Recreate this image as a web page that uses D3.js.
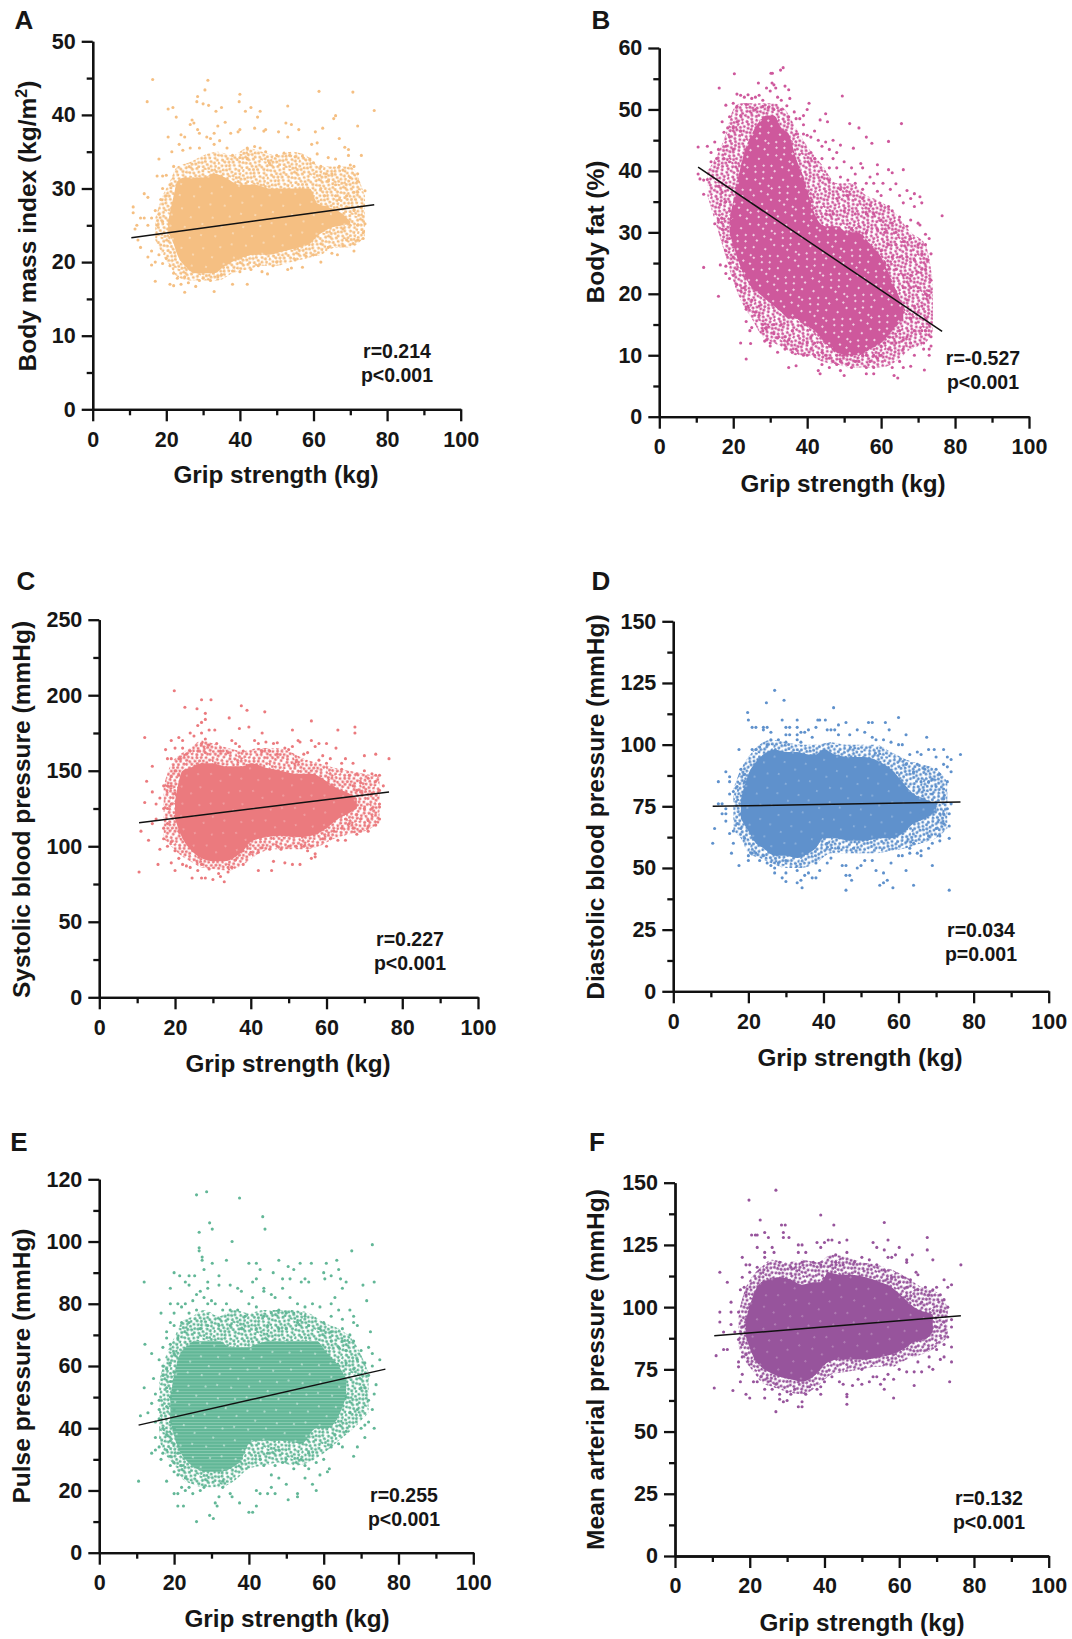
<!DOCTYPE html>
<html>
<head>
<meta charset="utf-8">
<script src="https://cdn.jsdelivr.net/npm/d3@7"></script>
<style>
  html, body { margin: 0; background: #fff; }
  svg text { font-family: "Liberation Sans", Arial, sans-serif; font-weight: 700; fill: #161616; }
</style>
</head>
<body>
<div id="chart"></div>
<script>
// Values
let xTicks = [0, 20, 40, 60, 80, 100];
let xMinor = [10, 30, 50, 70, 90];
let fitX = [10.5, 76.5];

let aTicks = [0, 10, 20, 30, 40, 50];
let aMinor = [5, 15, 25, 35, 45];
let bTicks = [0, 10, 20, 30, 40, 50, 60];
let bMinor = [5, 15, 25, 35, 45, 55];
let cTicks = [0, 50, 100, 150, 200, 250];
let cMinor = [25, 75, 125, 175, 225];
let dTicks = [0, 25, 50, 75, 100, 125, 150];
let dMinor = [12.5, 37.5, 62.5, 87.5, 112.5, 137.5];
let eTicks = [0, 20, 40, 60, 80, 100, 120];
let eMinor = [10, 30, 50, 70, 90, 110];
let fTicks = [0, 25, 50, 75, 100, 125, 150];
let fMinor = [12.5, 37.5, 62.5, 87.5, 112.5, 137.5];

let aFit = [23.3, 27.8];
let bFit = [40.6, 13.9];
let cFit = [115.5, 136];
let dFit = [75, 76.7];
let eFit = [41, 59];
let fFit = [88.5, 96.5];

// Solid part of each cloud, where single dots can't be told apart
let aCoreX = [20.5, 22, 23, 25, 28, 30, 33, 36, 40, 44, 48, 52, 56, 59, 61, 64, 68, 70];
let aCoreHigh = [25.5, 29, 31, 31.5, 31.5, 31.5, 32, 31.5, 30.5, 30.5, 30, 30, 30, 30, 28, 27.5, 26.5, 25.5];
let aCoreLow = [24, 22.5, 21, 19.5, 18.5, 18.5, 18.5, 19.5, 20.5, 21, 21, 21.5, 22, 22.5, 23.5, 24.5, 25, 25.2];

let bCoreX = [19, 21, 23, 25, 27, 29, 31, 33, 35, 37, 39, 42, 45, 48, 51, 54, 57, 60, 63, 66];
let bCoreHigh = [32, 38, 43, 46, 48, 49, 49, 47, 46, 42, 39, 33, 31, 31, 30, 30, 28, 26, 22, 18];
let bCoreLow = [30, 26, 23, 21, 20, 19, 18, 17, 16, 16, 15, 14, 12, 10.5, 10, 10, 11, 12, 14, 16];

let cCoreX = [20, 22, 24, 27, 30, 33, 36, 38, 40, 44, 48, 52, 56, 60, 63, 66, 68];
let cCoreHigh = [130, 150, 152, 155, 155, 153, 153, 153, 155, 152, 150, 148, 148, 143, 138, 135, 132];
let cCoreLow = [118, 105, 98, 92, 90, 90, 93, 97, 103, 106, 107, 106, 107, 112, 118, 122, 125];

let dCoreX = [18, 20, 22, 24, 27, 30, 33, 36, 38, 40, 43, 47, 51, 55, 58, 61, 64, 67, 70];
let dCoreHigh = [78, 88, 93, 96, 98, 97, 97, 96, 96, 98, 96, 95, 95, 93, 90, 85, 80, 78, 76];
let dCoreLow = [70, 65, 60, 58, 55, 55, 54, 56, 58, 62, 62, 61, 61, 62, 62, 64, 68, 70, 73];

let eCoreX = [19, 21, 23, 26, 29, 32, 35, 38, 40, 42, 46, 50, 54, 58, 61, 64, 66];
let eCoreHigh = [50, 62, 66, 68, 68, 68, 66, 66, 66, 67, 68, 68, 68, 68, 64, 60, 56];
let eCoreLow = [42, 34, 30, 27, 26, 26, 27, 30, 35, 36, 36, 36, 35, 40, 40, 44, 50];

let fCoreX = [19, 21, 23, 25, 28, 31, 34, 37, 39, 41, 44, 47, 51, 55, 58, 61, 64, 67, 69];
let fCoreHigh = [95, 105, 110, 111, 112, 111, 109, 110, 110, 114, 113, 113, 112, 110, 108, 104, 100, 98, 97];
let fCoreLow = [88, 80, 76, 74, 72, 71, 70, 72, 75, 78, 79, 79, 79, 80, 81, 83, 86, 87, 90];

// Outer edge of the speckled ring around the solid part
let aRingX = [17, 19, 21, 23, 26, 30, 34, 38, 42, 46, 50, 54, 58, 62, 66, 70, 74];
let aRingHigh = [26, 29, 31, 33, 33.5, 34.5, 35, 34.5, 35.5, 35, 34.5, 35, 34.5, 33, 33, 33, 29];
let aRingLow = [23, 21, 19.5, 18, 17.5, 17.5, 17.5, 18.5, 19, 19.5, 19.5, 20, 20.5, 21, 22, 22, 23.5];

let bRingX = [13, 16, 18, 20, 22, 25, 28, 31, 34, 37, 40, 44, 48, 52, 56, 60, 64, 68, 72, 74];
let bRingHigh = [40, 43, 46, 50, 51, 51, 51, 51, 50, 47, 44, 41, 38, 38, 36, 35, 33, 30, 28, 22];
let bRingLow = [36, 30, 26, 22, 19, 16, 13, 12, 11, 10, 10, 9, 8.5, 8, 8, 8, 9, 11, 12, 14];

let cRingX = [17, 19, 21, 24, 27, 30, 34, 38, 42, 46, 50, 54, 58, 62, 66, 70, 74];
let cRingHigh = [140, 155, 160, 165, 170, 168, 165, 163, 165, 165, 163, 158, 155, 152, 150, 148, 146];
let cRingLow = [105, 100, 95, 90, 86, 85, 84, 88, 95, 98, 98, 98, 100, 105, 108, 110, 115];

let dRingX = [16, 18, 20, 23, 26, 30, 34, 38, 42, 46, 50, 54, 58, 62, 66, 70, 73];
let dRingHigh = [82, 90, 95, 100, 102, 101, 100, 100, 101, 100, 100, 100, 97, 94, 92, 90, 85];
let dRingLow = [65, 62, 56, 54, 52, 50, 50, 52, 56, 56, 56, 56, 57, 58, 60, 62, 66];

let eRingX = [16, 18, 20, 22, 25, 28, 32, 36, 40, 44, 48, 52, 56, 60, 64, 68, 72];
let eRingHigh = [55, 64, 69, 74, 76, 78, 76, 78, 77, 78, 78, 78, 77, 74, 72, 68, 58];
let eRingLow = [36, 31, 28, 24, 22, 21, 21, 23, 27, 28, 29, 28, 29, 32, 36, 40, 45];

let fRingX = [17, 19, 21, 23, 26, 30, 34, 38, 42, 46, 50, 54, 58, 62, 66, 70, 73];
let fRingHigh = [98, 108, 113, 116, 119, 118, 119, 118, 121, 120, 118, 117, 115, 112, 108, 106, 100];
let fRingLow = [84, 78, 74, 70, 68, 66, 65, 68, 73, 74, 75, 76, 76, 79, 81, 84, 88];

// Separate dots around the solid part
let aPoints = [[16.3,44.8],[14.8,41.8],[20.5,40.8],[21.8,41],[22.7,39.7],[30.5,43.4],[31.3,44.7],[28.5,42.5],[28.3,41.8],[30,41.5],[31.5,41.3],[33.5,40.5],[35,41],[40,42.8],[39.8,41.8],[41.5,40.5],[43,41],[44.8,39.7],[45.5,40.5],[53,41.2],[61.5,43.2],[70.7,43.1],[76.5,40.6],[65.5,39.5],[66,39.9],[72,38.5],[62.5,38.2],[52.5,38.9],[54,38.7],[56,38],[60.5,37.7],[46.5,37.8],[47,38],[50.5,37.7],[53,37],[44,38.2],[40,38],[39.5,37.7],[26.5,38.7],[27.5,38.9],[27,39.3],[28.5,38],[29,37.5],[31,37],[32,36.8],[33,37.5],[34,38.5],[36,39],[37.5,37.5],[24,37.3],[25,37],[20.5,37],[23.5,36],[21.5,35],[24.5,35.2],[26.5,35.5],[29,35.5],[33,36],[34.5,36.5],[36.5,35.5],[38,34.5],[40,34.2],[42,34],[42,35.5],[44,35.7],[45.5,35.5],[47,35],[48,33.5],[50,34.5],[52,34.8],[53.5,34.5],[55,34.3],[57,34.4],[59,34],[60,33.5],[61,34.7],[59.5,36],[61,36.2],[67,36.8],[68.5,35.6],[69.5,35.3],[69.5,34.5],[73,34.5],[64,34.2],[66,34],[67,33],[70,33.2],[71,33],[72,32],[62,33],[63.5,32],[65,32],[68,32.5],[64,31],[66,30.5],[70,31.5],[72,31],[72,29.5],[74,29.7],[71,29.5],[69,29],[66,29],[62,30],[63,29],[67,28.5],[18,34],[19,31.7],[17.5,31.7],[20,31.8],[21,30.5],[19,30],[22,33],[20,29],[18.5,28.5],[17,27],[15,28.8],[14,29.3],[11,27.5],[11,26.7],[13,26],[14,26],[16,26],[18,26.5],[19,25.5],[12,25],[15,25],[17.5,25],[11.5,24.5],[12.3,23],[13,22],[15,20.7],[16,21.5],[17,20],[18,21],[16,19.6],[17,17.4],[19,19.8],[20,20.5],[21,19.5],[22,18.5],[21,17],[22,16.8],[23,17.8],[24,17],[25,15.9],[25,18],[26,17.2],[28,16.7],[29,17.5],[30,17.8],[33,16],[32,17.5],[34,18],[35,18.3],[38,17],[38,18.8],[40,18.7],[42,17],[43,19],[45,19.5],[46,18.7],[47.5,18.4],[49,19.5],[50,20],[53,19],[54,19.2],[57,19.3],[55,20.3],[58,20.8],[60,21],[62,20],[65,21.2],[66.5,21],[68,22.2],[71,21.5],[64,22],[62,22.5],[69,23],[72,23],[73.5,23.2],[73.5,24],[72,25],[74,25.2],[70,25],[68,24.5],[71,27],[73,27.5],[69,27.5],[66,26],[64,26.5]];

let bPoints = [[20.3,55.8],[16.2,53.5],[30.2,55.9],[30.6,55.9],[33.5,56.8],[32.8,56.4],[26.8,54.3],[30.5,54.3],[31,54],[31.5,53.5],[29,53.5],[34,53.8],[35,53.2],[30,53],[21,52.5],[22,52.3],[23,52],[24,52.4],[25,51.8],[26,52],[27,52.3],[28,51.5],[32,52],[33,51.5],[35.3,51.8],[18,50.7],[20,51],[21,50.5],[23.5,50.8],[26,50],[28,50.5],[29.5,50.3],[31,50],[33,50],[34.5,50.6],[36.5,49.6],[39,49],[40,50],[40.5,51],[49.5,52.2],[45,49.3],[43.5,48.3],[45.5,48],[51.5,47.7],[54,47],[65.5,47.7],[38,48.5],[39,47.5],[35,48.8],[37,48.5],[17,48],[19,48.8],[21,48],[22,49],[18.5,47],[17.5,46.3],[19,45.5],[20,47],[22,46.5],[56,45.5],[37,46],[39,46],[40,45.8],[41,45.5],[42,46.5],[62,44.8],[57.5,44.5],[43,45],[45,44.7],[47,45],[49,44.2],[44,44],[46,43.5],[15,44.7],[13,44],[10.5,43.9],[14,43],[16,43.5],[18,44],[20,43.5],[48,43],[52.5,43.7],[41,43],[42,42],[44,42],[47,42],[50,41.5],[54.5,41.2],[55,40.5],[14,41.5],[15.5,42],[17.5,42],[19,41.5],[59,41],[46,40.5],[48,40.5],[52,40.5],[53,39.5],[59,39.5],[62,40.2],[66,40.2],[63,39.7],[57,39],[58,38],[60.5,38],[44,39],[46,38.5],[49,39],[51,38.5],[53,38],[55,37],[56,38],[62.5,37],[64,37.9],[67,36.8],[69,36.3],[70.5,35.8],[65,36],[68,35.5],[59,36.7],[60,36],[49,37],[51,36],[48,35.5],[55,35.5],[57,34.5],[60,34.3],[62,34.2],[63,33.5],[66,34.8],[71,34.8],[69,34.2],[50,33.5],[53,33],[56,33],[58,33],[60,32],[63,31.5],[65,32.5],[68,32],[70,31.5],[70.5,31.2],[76.5,32.7],[72,29.7],[73,29],[67,31],[64,30],[61,30],[59,30.5],[56,30],[54,31],[52,30.5],[47,33],[45,33],[43,32.5],[42,34],[40,36.5],[41,35],[10.5,39.5],[11,38.7],[12,38.5],[13,38.6],[12,36.2],[16,37.5],[17,36.5],[18,35],[16.5,34.5],[19,33.5],[20,32],[15,31.4],[16,32],[17,32.3],[18,30.5],[17,30.5],[19,29],[20,28],[18,28.5],[18,27],[16.5,24.7],[12,24.3],[18,24.5],[19,25],[20,26],[18,23.3],[20,23],[21,24],[19,22.5],[21,21.5],[22,20.5],[16,19.6],[23,21],[23,19],[24,18],[23.5,17.5],[25,19],[26,17],[27,18],[23.5,15.5],[25,14.5],[24.5,14],[22,12],[24.7,11.9],[23.5,9.4],[27,16.5],[28,15],[28,14],[29,14.5],[28.5,12.3],[29,12.5],[30,12],[30,11.5],[31,15],[31,13.5],[32,12.8],[33,15],[32,10.5],[34,11],[35,8],[37,8.3],[36,10.5],[37,11],[34,13],[35,12.5],[36,14],[38,12],[39,10],[38,16],[40,15],[40,12],[40,10],[41,11],[41,13],[42,10],[42,12],[43,14],[43,7.5],[43.5,7],[44,8.5],[44,10.5],[45,12],[45,10],[46,9.5],[46,8],[47,9],[47,11],[48,10],[48,8.5],[49,7.5],[50,6.7],[49,9],[50,10],[51,8.5],[52,8],[52,10],[53,9],[53,11],[54,9],[55,10],[56,8],[56,10],[56,7],[57,9],[58,8],[58,7],[58,10],[59,9.5],[59,12],[60,10],[60,11.5],[61,12],[62,11],[62,13],[63,12],[63,8],[63.5,6.7],[64.5,6.3],[65,9],[66,8],[66,11],[64,12],[66,12.5],[65,14],[67,13],[68,8.2],[68,12],[69,10],[69,14],[71,14],[71.7,7.6],[71.5,12],[71.5,11],[73,11],[73,10],[73.5,11.5],[73.5,13],[73,15],[72,14],[72,16],[70,17],[68,16],[66,17],[64,16],[67,19],[69,18],[71,18],[72.5,19.7],[73,20.5],[72,20],[70,21],[68,21],[66,21],[64,20],[62,21],[62,24],[64,24],[66,23],[68,23],[70,23.5],[71,24],[72,24],[73.5,22.2],[73.5,26.5],[71,26.5],[69,25.5],[67,26],[65,26],[63,26],[61,25],[60,27],[62,28],[64,28],[66,28.5],[68,29],[70,28],[72,28],[72.7,25.5]];

let cPoints = [[19.8,203],[22.6,192],[25.8,191],[27,197],[29.5,197],[28,188],[28,184],[37.5,193],[39,190],[43.7,189],[34.3,185],[27,182],[26,180],[39.5,179],[37,178],[56,183],[67.5,179],[67.5,175],[63,177],[51,177],[29,177],[30.5,177],[12,172],[21,172],[22,170],[24,175],[25,173],[27,175],[28,171],[43,175],[19,170],[27,168],[29,167],[31,168],[35,170],[36,168],[37,166],[41,170],[42,168],[44,169],[46,168],[47,168.5],[52.5,170],[53,169],[51,166],[56,170],[57,166],[58,168],[60,168],[62.5,165],[20,165],[22,165],[24,163],[26,163],[28,162],[32,163],[34,162],[17.5,164],[18,158],[19,158],[14,153],[12.5,143],[17,140],[18,140],[21,158],[20,150],[21,147],[19,146],[23,161],[38,163],[43,163],[45,163],[47,161],[49,165],[50,164],[54,161],[55,162],[59,160],[61,158],[64,155],[65,158],[67,155],[64,151],[60,155],[58,157],[52,156],[70,160],[73,161],[76.5,158],[70,150],[72,148],[73,147],[74,147],[71,145],[73,143],[68,148],[66,147],[69,142],[75,140],[74,137],[72,135],[69,136],[67,140],[68,137],[74,128],[74,126],[74,118],[73,114],[71,113],[71,117],[69,118],[68,121],[70,125],[72,125],[69,110],[68,108],[71,110],[67,112],[66,115],[65,118],[64,112],[65,104],[63,104],[62,110],[61,105],[60,100],[59,105],[56,100],[57,95],[56,92],[57,93],[55,97],[53,88],[54,100],[52,100],[50,100],[49,89],[51,88],[48,98],[47,100],[45.5,84],[46,90],[45,98],[42,84],[42,96],[43,99],[40,96],[39,100],[38,97],[38,88],[35,95],[36,91],[34,86],[35,86],[33,76.5],[34,83],[32,80],[31.5,82],[30,78],[29,85],[27,79],[28,79],[26,84],[24.5,79],[24,86],[27,88],[23,87],[22,88],[21,92],[20,84],[19,89],[20,97],[18,100],[19,103],[15.5,88],[10.5,83],[13,104],[11,110],[14,115],[15,118],[17,112],[16,98],[17,105],[18,115],[12,129],[14,136],[15,128],[16,132],[17,125],[19,128],[20,135],[20,120],[21,110],[18,125],[19,140]];

let dPoints = [[27,122],[29.5,118],[24.8,117],[19.8,113],[20,110],[42.7,115],[60,111],[62,104],[67.5,103],[29,110],[33,110],[38.5,110],[39,110],[40.5,110],[46,109],[52,109],[53,109],[56.5,109],[26,105],[44,108],[43,106],[21,107],[22,107],[24,107],[25,107],[24,106],[30,107],[31,107],[33,107],[36,106],[38,107],[41,106],[42,106],[49,106],[51,105],[57.5,106],[30,104],[31,104],[33,104],[34,105],[35,105],[37,103],[44,104],[47,104],[53,103],[54,102],[56,102],[58,101],[60,100],[61,100],[26,102],[28,102],[30,101],[33,102],[34,101],[17.5,98],[21,98],[22,98],[23,99],[25,100],[63,96],[65,97],[66,96],[68,98],[69.5,98],[72,98],[70,95],[74,94],[76.5,96],[73,95],[72,92],[73,91],[74,89],[73,85],[72,82],[71,88],[70,90],[69,86],[70,83],[69,80],[68,85],[67,90],[65,92],[64,89],[66,85],[62,92],[14,89],[15,87],[12,85],[15,85],[18,90],[19,88],[17,83],[16,81],[15,80],[19,85],[19,80],[12,76],[13,76],[14,74],[13,72],[14,72],[14,69],[11,66],[10.5,60],[15,64],[16,60],[16,65],[15.5,56],[17.5,51],[17,68],[18,72],[18,66],[19,62],[20,55],[20,53],[21,56],[22,56],[23,53],[24,55],[25,52],[26,51],[27,48],[27,50],[28,52],[29,46],[30,44.5],[30,48],[30,53],[33,44],[34,45],[34.3,42],[35,47],[33,49],[36,48],[37,46],[38,46],[39,49],[38,52],[41,52],[42,54],[45,51],[46,51],[46,47],[47,47],[47.5,45],[46,41],[49,50],[50,51],[51,53],[53,53],[54,49],[55,43],[56,44],[57,45],[56,48],[58,52],[58.5,42],[64,43],[62,49],[60,55],[61,55],[65,56],[66,57],[66,55],[69,51],[68,58],[69,60],[71,61],[71,63],[73.5,62],[73.5,41],[73.5,67],[72,68],[70,66],[68,63],[64,60],[71,72],[72,72],[73,74],[73.5,72],[70,76],[72,78],[74,76],[66,72],[63,58],[63,56],[48,58],[44,58],[41,60]];

let ePoints = [[26,115],[28.7,116],[37.5,114],[43.7,108],[44.3,104],[29.5,106],[30.2,104],[26.7,103],[35.5,100],[73,99],[67.5,97],[26.7,98],[26.7,97],[27.5,95],[27.5,94],[34,94],[48,94],[30.2,93],[40,93],[42,93],[53.7,93],[56.7,93],[60.7,93],[63.5,94],[50.5,92],[52,91],[64,91],[28,91],[43,91],[12,87],[20,90],[21.5,89],[24,89],[25.5,89],[32,89],[46.5,90],[60,90],[60.3,88],[62,89],[64.5,88],[49,88],[51,88],[55,88],[29,87],[23,87],[24,86],[32,86],[35,86],[41,87],[42,88],[54,87],[56,87],[66,87],[73.5,87],[70.5,86],[19,85],[27,84],[29,85],[37,85],[38,84],[44,85],[49,85],[51,82],[63,82],[65,85],[71.5,81],[26,83],[28,82],[29,80],[25,81],[30,81],[31,80],[22,79],[19,80],[21,80],[23,80],[34,80],[42,79],[44,84],[46,83],[47,82],[40,80],[41,82],[48,78],[50,77],[53,80],[55,79],[57,80],[59,79],[62,80],[64,78],[67,78],[68,76],[16.5,77],[20,77],[24,77],[26,78],[33,78],[35,78],[37,78],[39,76],[44,76],[46,77],[52,77],[55,76],[60,74],[62,76],[65,75],[68,74],[69,73],[18,71],[19,74],[20,73],[22,74],[24,74],[27,72],[29,73],[32,73],[35,73],[38,72],[42,72],[45,73],[48,72],[50,72],[53,74],[56,73],[59,72],[62,71],[65,72],[67,70],[72.5,71],[18,69],[19,67],[21,69],[17,66],[20,64],[12.2,67],[14,64],[16,62],[17,60],[19,61],[20,58],[18,59],[19,55],[14.5,56],[12,53],[17,57],[15,51],[18,53],[20,52],[16,49],[19,50],[14,48],[11,44],[13,45],[16,46],[18,47],[20,46],[15,42],[16,43],[19,42],[20,40],[17,40],[18,38],[15,37],[19,36],[20,35],[16,34],[18,33],[17,32],[14,32],[15,33],[16.5,30],[19,31],[21,32],[20,29],[22,28],[19,28],[20,26],[21,25],[23,24],[10.5,23],[18,23],[22,21],[23,20],[20,19],[21,19],[24,21],[25,19],[27,20],[28,21],[21,15],[22.5,15],[26,10],[29.5,12],[30.5,11],[31,16],[31.5,15],[32,18],[33,21],[33,23],[35,19],[35.5,18],[37.5,16],[40,13],[41,13],[42,15],[42,20],[43,19],[45,19],[46,21],[47,19],[48,24],[50,22],[50.5,17],[53,18],[53,19],[55,24],[56,27],[58,20],[57,22],[61,26],[61.5,27],[59,25],[55,28],[58,29],[60,30],[62,34],[64,35],[65,34],[63,38],[66,39],[68,31],[69,34],[71,37],[71,41],[73.5,40],[70,40],[72,42],[73,46],[73.5,51],[72,49],[74,54],[71,53],[69,46],[67,45],[66,50],[70,53],[72,57],[73,60],[75,62],[71,61],[70,65],[72,66],[73,64],[69,62],[68,59],[66,61],[66,65],[64,66],[68,68],[65,68],[62,68],[43,30],[45,32],[48,33],[50,30],[47,28],[44,28],[46,25],[49,29],[52,27],[54,30],[56,32]];

let fPoints = [[27,147],[19.8,143],[39,137],[22.8,135],[28.5,133],[29.5,133],[42.5,133],[56,134],[29,130],[29,128],[30.5,128],[20.5,129],[21.5,129],[22,129],[24,130],[25,128],[46,127],[42,127],[38,126],[40,126],[41,127],[44,126],[57,127],[67.5,128],[67.5,123],[69,119],[76.5,117],[53,126],[54,124],[60,124],[33,125],[34,125],[39,124],[22,124],[26,124],[26.5,122],[33,122],[35,122],[46,122],[43,121],[57,120],[58,120],[59,121],[56,123],[63.5,121],[62,119],[62,118],[24,122],[24,120],[18,120],[12,114],[14,110],[18,112],[19,117],[20,117],[22,116],[20,114],[18.5,108],[17.5,107],[19,105],[15,102],[12,98],[15,98],[17,98],[15,93],[12,94],[13,90],[18,92],[19,95],[20,100],[21,103],[16,90],[14,83],[13,83],[11,80.5],[17,87],[18,85],[18,80],[19,81],[17,78],[17,76],[18,73],[17.5,70],[10.5,67.5],[15.5,66.5],[19,65],[20,63.5],[21,70],[22,70],[23,72],[24,67],[24,63.5],[26,67],[27,69],[27,58],[28,63],[28,65],[29,62],[30,62.5],[30,66],[31,65],[32,67],[33,60],[34,60],[34,62],[35,65],[36,68],[38,67],[39,65],[39,68],[40,70],[42,72],[44,70],[45,69],[46,65],[46,64],[46,61],[47.5,68.5],[49,71],[50,75],[50,69],[52,70],[53,72],[54,72],[55,69],[56,67],[56,71],[57,73],[58.5,71],[58.5,63.5],[60,75],[62,74],[64,74],[64,68.5],[66,74],[65,78],[68,80],[68,76],[69,75],[71,79],[72,80],[74,84],[74,78],[73.5,70],[70,83],[72,85],[73,88],[74,92],[74,95],[72,94],[70,92],[68,95],[71,98],[73,100],[72,103],[74,109],[73,108],[72,111],[70,108],[69,107],[71,105],[68,105],[66,102],[67,108],[65,107],[65,113],[64.5,114],[63,111],[62,108],[61,112],[60,110],[58,112],[56,115],[54,117],[52,119],[50,120],[48,118],[45,117],[43,118],[39,117],[37,118],[34,118],[31,116],[28,118]];

// Fill textures, in tile pixels. They only stand for density, they are not values
let ringTile = [[1.5,2.5],[4,4],[9,1.5],[12.5,5],[17,2],[18.5,6.5],[24.5,1],[28,4.5],[31,2],[2,9],[7,8],[10,10.5],[15,9.5],[22,8],[25.5,10],[30,9.5],[4.5,14],[8,15.5],[13,14],[18,12.5],[20.5,16],[27,14.5],[30.5,16],[1,19],[6,21],[11,19.5],[15,18],[16.5,22],[23.5,20],[28,20.5],[3,25],[9,25.5],[13,24.5],[20,25],[25,25.5],[30.5,24],[1.5,30],[6,28.5],[10.5,30.5],[16,29],[19,31],[23,29],[27.5,30],[31,28.5]];
let speckTile = [[5,6],[19,3],[27,12],[11,18],[22,24],[3,27]];
let speckTileHeavy = [[5,6],[19,3],[27,12],[11,18],[22,24],[3,27],[13,8],[25,5],[7,14],[17,13],[30,20],[16,24],[9,29],[28,29],[2,20],[21,18]];

// Layout of the six panels, in page pixels
let panels = [
  {letter: "A", lx: 24, ly: 29, left: 92.7, right: 460.7, bottom: 409.3, top: 41.3, color: "#F5BF82", angle: 17, speckR: 0.7,
   ticks: aTicks, minor: aMinor, fit: aFit, coreX: aCoreX, coreHigh: aCoreHigh, coreLow: aCoreLow,
   ringX: aRingX, ringHigh: aRingHigh, ringLow: aRingLow, points: aPoints, specks: speckTile,
   title: "Body mass index (kg/m", sup: "2", tx: 36, ty: 226, xtx: 276, xty: 483,
   stat: ["r=0.214", "p<0.001"], sx: 397, sy: 358},
  {letter: "B", lx: 601, ly: 29, left: 659.3, right: 1029, bottom: 416.7, top: 48, color: "#CE589C", angle: 41, speckR: 0.95,
   ticks: bTicks, minor: bMinor, fit: bFit, coreX: bCoreX, coreHigh: bCoreHigh, coreLow: bCoreLow,
   ringX: bRingX, ringHigh: bRingHigh, ringLow: bRingLow, points: bPoints, specks: speckTileHeavy,
   title: "Body fat (%)", tx: 604, ty: 232, xtx: 843, xty: 492,
   stat: ["r=-0.527", "p<0.001"], sx: 983, sy: 365},
  {letter: "C", lx: 26, ly: 590, left: 99.3, right: 478, bottom: 997.3, top: 619.7, color: "#EB7A7E", angle: 67, speckR: 0.6,
   ticks: cTicks, minor: cMinor, fit: cFit, coreX: cCoreX, coreHigh: cCoreHigh, coreLow: cCoreLow,
   ringX: cRingX, ringHigh: cRingHigh, ringLow: cRingLow, points: cPoints, specks: speckTile,
   title: "Systolic blood pressure (mmHg)", tx: 30, ty: 809.5, xtx: 288, xty: 1072,
   stat: ["r=0.227", "p<0.001"], sx: 410, sy: 946},
  {letter: "D", lx: 601, ly: 590, left: 673.3, right: 1048.7, bottom: 991.3, top: 621.3, color: "#5F91CC", angle: 103, speckR: 0.6,
   ticks: dTicks, minor: dMinor, fit: dFit, coreX: dCoreX, coreHigh: dCoreHigh, coreLow: dCoreLow,
   ringX: dRingX, ringHigh: dRingHigh, ringLow: dRingLow, points: dPoints, specks: speckTile,
   title: "Diastolic blood pressure (mmHg)", tx: 604, ty: 807, xtx: 860, xty: 1066,
   stat: ["r=0.034", "p=0.001"], sx: 981, sy: 937},
  {letter: "E", lx: 19, ly: 1151, left: 99.3, right: 473.3, bottom: 1552.7, top: 1179.3, color: "#62B797", angle: 23, speckR: 0.8, stripes: true,
   ticks: eTicks, minor: eMinor, fit: eFit, coreX: eCoreX, coreHigh: eCoreHigh, coreLow: eCoreLow,
   ringX: eRingX, ringHigh: eRingHigh, ringLow: eRingLow, points: ePoints, specks: speckTile,
   title: "Pulse pressure (mmHg)", tx: 30, ty: 1366, xtx: 287, xty: 1627,
   stat: ["r=0.255", "p<0.001"], sx: 404, sy: 1502},
  {letter: "F", lx: 597, ly: 1151, left: 675, right: 1048.7, bottom: 1556, top: 1182.7, color: "#97549C", angle: 131, speckR: 0.6,
   ticks: fTicks, minor: fMinor, fit: fFit, coreX: fCoreX, coreHigh: fCoreHigh, coreLow: fCoreLow,
   ringX: fRingX, ringHigh: fRingHigh, ringLow: fRingLow, points: fPoints, specks: speckTile,
   title: "Mean arterial pressure (mmHg)", tx: 604, ty: 1369.5, xtx: 862, xty: 1631,
   stat: ["r=0.132", "p<0.001"], sx: 989, sy: 1505}
];

let svg = d3.select("#chart")
  .append("svg")
  .attr("width", 1072)
  .attr("height", 1639)
  .style("display", "block");

let defs = svg.append("defs");

function addTile(id, dots, color, r, angle, zoom) {
  let pattern = defs.append("pattern")
    .attr("id", id)
    .attr("patternUnits", "userSpaceOnUse")
    .attr("width", 32)
    .attr("height", 32)
    .attr("patternTransform", "rotate(" + angle + ") scale(" + zoom + ")");
  pattern.selectAll("circle")
    .data(dots)
    .enter()
    .append("circle")
    .attr("cx", d => d[0])
    .attr("cy", d => d[1])
    .attr("r", r)
    .attr("fill", color);
}

panels.forEach((p, n) => {
  let xScale = d3.scaleLinear().domain([0, 100]).range([p.left, p.right]);
  let yScale = d3.scaleLinear().domain([0, d3.max(p.ticks)]).range([p.bottom, p.top]);

  let band = d3.area()
    .x(d => xScale(d.x))
    .y0(d => yScale(d.low))
    .y1(d => yScale(d.high))
    .curve(d3.curveMonotoneX);

  let coreRows = p.coreX.map((x, i) => ({x: x, high: p.coreHigh[i], low: p.coreLow[i]}));
  let ringRows = p.ringX.map((x, i) => ({x: x, high: p.ringHigh[i], low: p.ringLow[i]}));

  addTile("ring" + n, ringTile, p.color, 1.9, p.angle, 0.8);
  addTile("speck" + n, p.specks, "#fff", p.speckR, p.angle, 1);

  svg.append("path").datum(ringRows).attr("d", band).attr("fill", "url(#ring" + n + ")");
  svg.append("path").datum(coreRows).attr("d", band).attr("fill", p.color);

  if (p.stripes) {
    // panel E has whole-number values, so its cloud shows thin rows
    let rowHeight = yScale(0) - yScale(1);
    let rows = defs.append("pattern")
      .attr("id", "rows")
      .attr("patternUnits", "userSpaceOnUse")
      .attr("width", 10)
      .attr("height", rowHeight)
      .attr("y", yScale(0));
    rows.append("rect").attr("width", 10).attr("height", 0.8).attr("fill", "#8ccbb3");
    svg.append("path").datum(coreRows).attr("d", band).attr("fill", "url(#rows)");
  }
  svg.append("path").datum(coreRows).attr("d", band).attr("fill", "url(#speck" + n + ")");

  svg.append("g")
    .selectAll("circle")
    .data(p.points)
    .enter()
    .append("circle")
    .attr("cx", d => xScale(d[0]))
    .attr("cy", d => yScale(d[1]))
    .attr("r", 1.55)
    .attr("fill", p.color);

  // Fit line
  let fitLine = d3.line().x(d => xScale(d[0])).y(d => yScale(d[1]));
  svg.append("path")
    .datum(fitX.map((x, i) => [x, p.fit[i]]))
    .attr("d", fitLine)
    .attr("fill", "none")
    .attr("stroke", "#111")
    .attr("stroke-width", 1.5);

  // Axes, major and minor ticks called separately
  let xAxis = d3.axisBottom(xScale).tickValues(xTicks).tickSize(12).tickPadding(10).tickSizeOuter(0);
  let xAxisMinor = d3.axisBottom(xScale).tickValues(xMinor).tickSize(6).tickFormat("").tickSizeOuter(0);
  let yAxis = d3.axisLeft(yScale).tickValues(p.ticks).tickSize(11).tickPadding(6).tickSizeOuter(0);
  let yAxisMinor = d3.axisLeft(yScale).tickValues(p.minor).tickSize(6).tickFormat("").tickSizeOuter(0);

  [[xAxis, "translate(0," + p.bottom + ")"], [xAxisMinor, "translate(0," + p.bottom + ")"],
   [yAxis, "translate(" + p.left + ",0)"], [yAxisMinor, "translate(" + p.left + ",0)"]].forEach(a => {
    let g = svg.append("g").attr("transform", a[1]).call(a[0]);
    g.selectAll("line").attr("stroke", "#111").attr("stroke-width", 2.3);
    g.selectAll("path").attr("stroke", "#111").attr("stroke-width", 2.3);
    g.selectAll("text").style("font-size", "21.5px");
  });

  // Texts
  svg.append("text")
    .attr("x", p.lx)
    .attr("y", p.ly)
    .attr("text-anchor", "middle")
    .style("font-size", "26px")
    .text(p.letter);

  svg.append("text")
    .attr("x", p.xtx)
    .attr("y", p.xty)
    .attr("text-anchor", "middle")
    .style("font-size", "24.3px")
    .text("Grip strength (kg)");

  let yTitle = svg.append("text")
    .attr("transform", "translate(" + p.tx + "," + p.ty + ") rotate(-90)")
    .attr("text-anchor", "middle")
    .style("font-size", "24.5px")
    .text(p.title);
  if (p.sup) {
    yTitle.append("tspan").attr("dy", -9).style("font-size", "16px").text(p.sup);
    yTitle.append("tspan").attr("dy", 9).text(")");
  }

  p.stat.forEach((s, i) => {
    svg.append("text")
      .attr("x", p.sx)
      .attr("y", p.sy + i * 24)
      .attr("text-anchor", "middle")
      .style("font-size", "19.5px")
      .text(s);
  });
});
</script>
</body>
</html>
